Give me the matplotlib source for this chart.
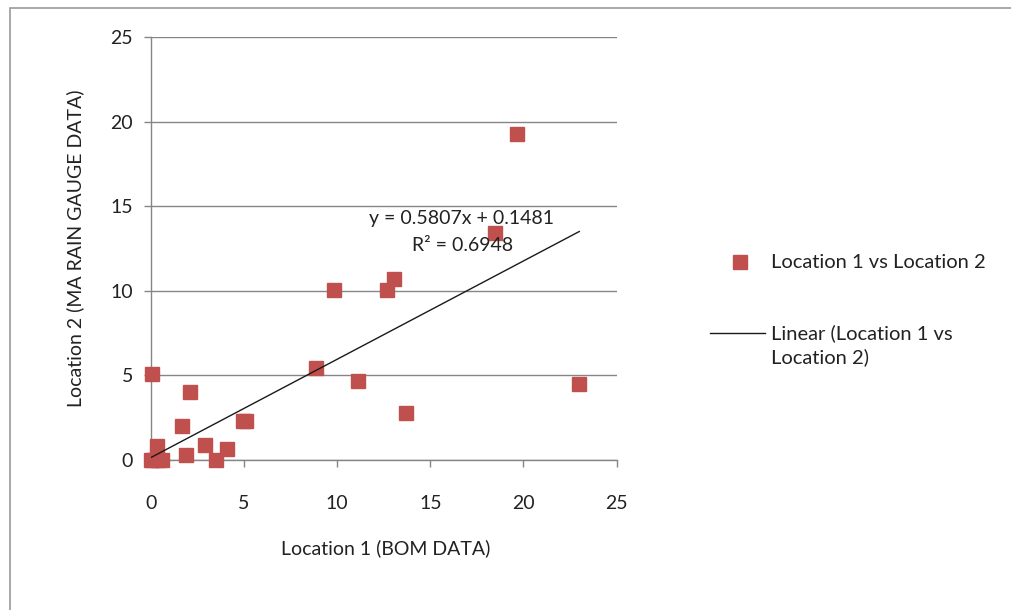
import matplotlib
matplotlib.use("Agg")
import matplotlib.pyplot as plt
from matplotlib.lines import Line2D
from matplotlib.patches import Rectangle
import numpy as np

plt.rcParams['font.family'] = ['Lato', 'DejaVu Sans']

# Data
loc1 = [0, 0.1, 0.35, 0.57, 0.3, 0.07, 1.65, 1.88, 2.09, 2.9, 3.47, 4.07, 4.95, 5.1,
        8.85, 9.84, 11.1, 12.66, 13.07, 13.68, 18.47, 19.63, 23.0]
loc2 = [0, 0, 0, 0, 0.83, 5.08, 2.0, 0.3, 4.0, 0.87, 0, 0.63, 2.28, 2.32,
        5.42, 10.05, 4.69, 10.05, 10.7, 2.8, 13.43, 19.27, 4.49]
slope = 0.5807
intercept = 0.1481
r2 = 0.6948
xticks = [0, 5, 10, 15, 20, 25]
yticks = [0, 5, 10, 15, 20, 25]

W, H = 1011, 610
FS = 14
txt = '#222222'
fig = plt.figure(figsize=(W / 100, H / 100), dpi=100)

# outer chart border
fig.add_artist(Rectangle((10 / W, -0.1), 1.2, 1 - 8 / H + 0.1,
                         transform=fig.transFigure, fill=False,
                         edgecolor='#9a9a9a', linewidth=1.2))

L, R, B, T = 151, 616.5, 460, 37
ax = fig.add_axes([L / W, 1 - B / H, (R - L) / W, (B - T) / H])
grey = '#868686'
ax.set_xlim(0, 25)
ax.set_ylim(0, 25)
ax.set_xticks(xticks)
ax.set_yticks(yticks)
ax.yaxis.grid(True, color=grey, linewidth=1.0)
ax.set_axisbelow(True)
for s in ['top', 'right']:
    ax.spines[s].set_visible(False)
for s in ['left', 'bottom']:
    ax.spines[s].set_color(grey)
    ax.spines[s].set_linewidth(1.0)
ax.tick_params(axis='both', colors=grey, labelcolor=txt, labelsize=FS,
               length=5, width=1.0, direction='out')
ax.tick_params(axis='y', pad=8)
ax.tick_params(axis='x', pad=20)

ax.plot(loc1, loc2, linestyle='none', marker='s', markersize=9.4,
        color='#C0504D', markeredgecolor='#C0504D', clip_on=False, zorder=3)

xfit = np.array([0, max(loc1)])
ax.plot(xfit, slope * xfit + intercept, color='#1a1a1a', linewidth=1.0, zorder=4)

ax.text(16.7, 14.3, f"y = {slope}x + {intercept}", ha='center', va='center',
        fontsize=FS, color=txt)
ax.text(16.75, 12.7, f"R² = {r2}", ha='center', va='center',
        fontsize=FS, color=txt)

ax.set_xlabel("Location 1 (BOM DATA)", fontsize=FS, color=txt)
ax.set_ylabel("Location 2 (MA RAIN GAUGE DATA)", fontsize=FS, color=txt)
ax.xaxis.label.set_va('center')
ax.yaxis.label.set_va('center')
ax.xaxis.set_label_coords((386 - L) / (R - L), -(548 - B) / (B - T))
ax.yaxis.set_label_coords(-(L - 75) / (R - L), 0.5)

# legend
fig.add_artist(Line2D([740 / W], [1 - 262 / H], marker='s', markersize=9.4,
                      color='#C0504D', linestyle='none', transform=fig.transFigure))
fig.text(771 / W, 1 - 262 / H, "Location 1 vs Location 2", fontsize=14.5,
         color=txt, va='center', ha='left')
fig.add_artist(Line2D([710 / W, 765 / W], [1 - 333 / H, 1 - 333 / H],
                      color='#1a1a1a', linewidth=1.0, transform=fig.transFigure))
fig.text(771 / W, 1 - 333 / H, "Linear (Location 1 vs", fontsize=14.5,
         color=txt, va='center', ha='left')
fig.text(771 / W, 1 - 357 / H, "Location 2)", fontsize=14.5,
         color=txt, va='center', ha='left')

fig.savefig("out.png", dpi=100)
